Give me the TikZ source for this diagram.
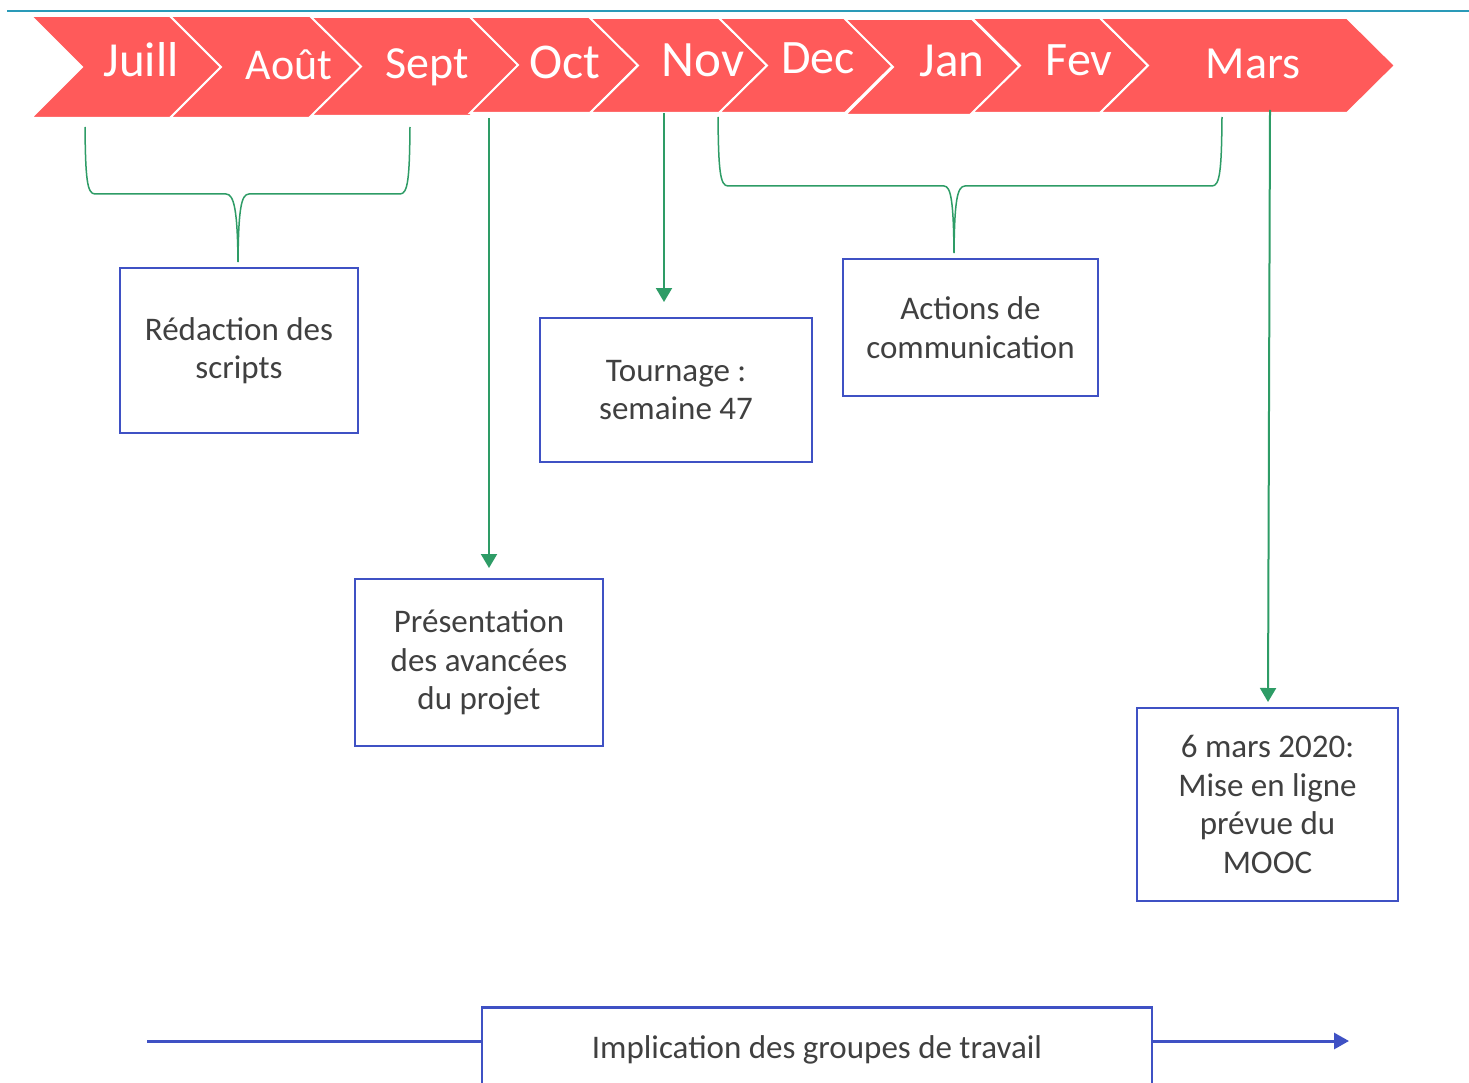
\documentclass[tikz,border=0pt]{standalone}
\usepackage{fontspec}
\setmainfont{Carlito}
\usetikzlibrary{arrows.meta}
\definecolor{chevred}{HTML}{FF5A5A}
\definecolor{boxblue}{HTML}{3F51C4}
\definecolor{arrgreen}{HTML}{2E9C66}
\definecolor{txtgray}{HTML}{404040}
\definecolor{tealline}{HTML}{2A9AB8}
\tikzset{
  chev/.style={fill=chevred, draw=white, line width=2pt, line join=miter},
  month/.style={text=white, anchor=base, inner sep=0pt},
  boxnode/.style={draw=boxblue, line width=2.8pt, text=txtgray, align=center, inner sep=0pt,
    font=\fontsize{33}{38.5}\selectfont},
  greenarrow/.style={draw=arrgreen, line width=2pt, -{Triangle[width=16pt,length=14pt]}},
  bracepath/.style={draw=arrgreen, line width=1.5pt},
  bluearrow/.style={draw=boxblue, line width=3pt}
}
\newcommand{\chevron}[5]{% L R T B d
  \fill[chev] (#1,#3) -- (#2,#3) -- ({#2+#5},{(#3+#4)/2}) -- (#2,#4) -- (#1,#4) -- ({#1+#5},{(#3+#4)/2}) -- cycle;}
\begin{document}
\begin{tikzpicture}[x=1pt,y=-1pt]
\useasboundingbox (0,0) rectangle (1469,1083);
\clip (0,0) rectangle (1469,1083);
\fill[white] (0,0) rectangle (1469,1083);
% top line
\draw[tealline, line width=2pt] (7,11) -- (1469,11);
% chevrons
\chevron{31}{170}{16}{118}{51}
\chevron{170}{311}{16}{118}{51}
\chevron{311}{470}{17}{116}{50}
\chevron{470}{590}{17}{113}{48}
\chevron{590}{719}{18}{113}{48}
\chevron{719}{845}{18}{113}{48}
\chevron{845}{972}{19}{115}{48}
\chevron{972}{1100}{18}{113}{48}
\chevron{1100}{1347}{18}{113}{48}
% month labels
\node[month, font=\fontsize{49}{49}\selectfont] (mjuill) at (141,77) {Juill};
\node[month, font=\fontsize{44}{44}\selectfont] (maout) at (289,80) {Août};
\node[month, font=\fontsize{46}{46}\selectfont] (msept) at (427,79) {Sept};
\node[month, font=\fontsize{50}{50}\selectfont] (moct) at (565,79) {Oct};
\node[month, font=\fontsize{51}{51}\selectfont] (mnov) at (703,77) {Nov};
\node[month, font=\fontsize{48}{48}\selectfont] (mdec) at (818,74) {Dec};
\node[month, font=\fontsize{49}{49}\selectfont] (mjan) at (952,77) {Jan};
\node[month, font=\fontsize{48}{48}\selectfont] (mfev) at (1079,76) {Fev};
\node[month, font=\fontsize{46}{46}\selectfont] (mmars) at (1253,79) {Mars};
% boxes
\node[boxnode, minimum width=238pt, minimum height=165pt] (scripts) at (239,350.5) {Rédaction des\\scripts};
\node[boxnode, minimum width=248pt, minimum height=167pt] (pres) at (479,662.5) {Présentation\\des avancées\\du projet};
\node[boxnode, minimum width=272pt, minimum height=144pt] (tourn) at (676,390) {Tournage :\\semaine 47};
\node[boxnode, minimum width=255pt, minimum height=137pt] (actions) at (970.5,327.5) {Actions de\\communication};
\node[boxnode, minimum width=261pt, minimum height=193pt] (mooc) at (1267.5,804.5) {6 mars 2020:\\Mise en ligne\\prévue du\\MOOC};
\node[boxnode, minimum width=670pt, minimum height=84pt, anchor=north] (impl) at (817,1006) {Implication des groupes de travail};
% braces
\coordinate (b1tip) at (238,262);
\draw[bracepath] (85,127) .. controls (85.5,178) and (87,194) .. (95,194) -- (226,194)
  .. controls (234,194) and (237.5,210) .. (b1tip);
\draw[bracepath] (410,127) .. controls (409.5,178) and (408,194) .. (400,194) -- (249,194)
  .. controls (241,194) and (238.5,210) .. (b1tip);
\coordinate (b2tip) at (954,253);
\draw[bracepath] (718,117) .. controls (718.5,170) and (720,186) .. (728,186) -- (944,186)
  .. controls (951,186) and (953.5,202) .. (b2tip);
\draw[bracepath] (1222,117) .. controls (1221.5,170) and (1220,186) .. (1212,186) -- (965,186)
  .. controls (957,186) and (954.5,202) .. (b2tip);
% green arrows
\coordinate (aSept) at (489,118);
\coordinate (aNov) at (664,113);
\coordinate (aMars) at (1270,110);
\draw[greenarrow] (aSept) -- (489,568);
\draw[greenarrow] (aNov) -- (664,302);
\draw[greenarrow] (aMars) -- (1268,702);
% bottom arrow
\coordinate (lstart) at (147,1041);
\coordinate (lend) at (1349,1041);
\draw[bluearrow] (lstart) -- (lstart -| impl.west);
\draw[bluearrow, -{Triangle[width=16pt,length=15pt]}] (lend -| impl.east) -- (lend);
\end{tikzpicture}
\end{document}
